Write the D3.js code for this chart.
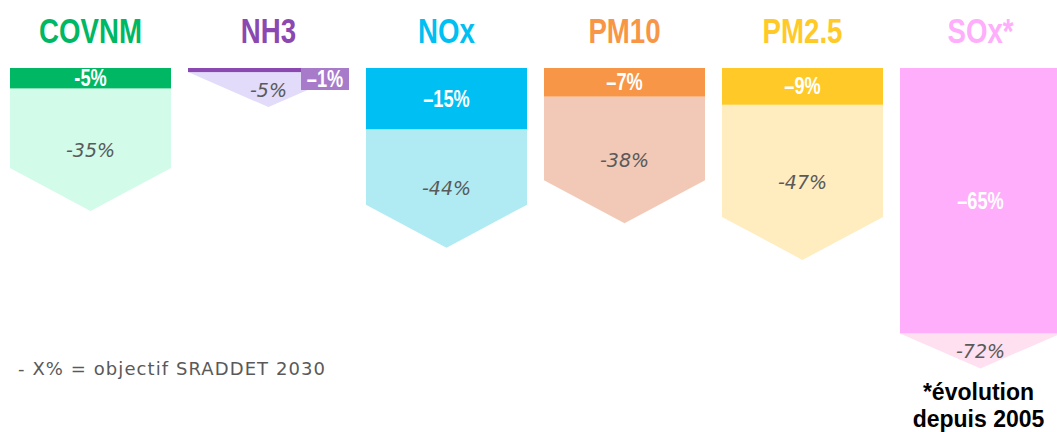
<!DOCTYPE html>
<html>
<head>
<meta charset="utf-8">
<script src="https://cdn.jsdelivr.net/npm/d3@7"></script>
<style>
  body { margin: 0; background: #fff; }
  svg { display: block; }
</style>
</head>
<body>
<svg></svg>
<script>
// polluants et evolutions (en %)
let polluants = ['COVNM', 'NH3', 'NOx', 'PM10', 'PM2.5', 'SOx*'];
let evolution = [-5, -1, -15, -7, -9, -65];
let objectif2030 = [-35, -5, -44, -38, -47, -72];
let evolutionLabels = ['-5%', '\u20131%', '\u201315%', '\u20137%', '\u20139%', '\u201365%'];
let objectifLabels = ['-35%', '-5%', '-44%', '-38%', '-47%', '-72%'];

let colors = ['#00b864', '#8b48b0', '#00bff3', '#f79646', '#ffca28', '#ffaefc'];
let lightColors = ['#d2fbea', '#e2dbf9', '#b0eaf2', '#f2c9b6', '#ffecbf', '#ffe0f0'];

let width = 1057;
let height = 432;
let bold = '"Liberation Sans", Arial, sans-serif';
let squeeze = 0.79; // pas de police etroite dispo : on compresse

let svg = d3.select('svg').attr('width', width).attr('height', height);

let rows = polluants.map((p, i) => ({
    name: p, evo: evolution[i], obj: objectif2030[i],
    evoLabel: evolutionLabels[i], objLabel: objectifLabels[i],
    color: colors[i], light: lightColors[i]
}));

let xScale = d3.scaleBand()
    .domain(polluants)
    .range([10, 1061])
    .paddingInner(17 / 178);

let yScale = d3.scaleLinear()
    .domain([0, d3.min(objectif2030)])
    .range([68, 362]);

let arrowH = 43;
let minDepth = 35;

let arrowGeom = (d) => {
    let bottom = yScale(d.evo);
    let tip = Math.max(yScale(d.obj), bottom + minDepth);
    let shoulder = Math.max(tip - arrowH, bottom);
    return { bottom: bottom, tip: tip, shoulder: shoulder };
};

// fleches objectif 2030 (arriere-plan)
svg.selectAll('path.obj')
    .data(rows)
    .enter()
    .append('path')
    .attr('class', 'obj')
    .attr('fill', d => d.light)
    .attr('d', d => {
        let x0 = xScale(d.name), x1 = x0 + xScale.bandwidth(), cx = (x0 + x1) / 2;
        let g = arrowGeom(d);
        return 'M' + x0 + ',' + g.bottom + 'L' + x1 + ',' + g.bottom + 'L' + x1 + ',' + g.shoulder +
            'L' + cx + ',' + g.tip + 'L' + x0 + ',' + g.shoulder + 'Z';
    });

// barres evolution
svg.selectAll('rect.evo')
    .data(rows)
    .enter()
    .append('rect')
    .attr('class', 'evo')
    .attr('x', d => xScale(d.name))
    .attr('y', yScale(0))
    .attr('width', xScale.bandwidth())
    .attr('height', d => yScale(d.evo) - yScale(0))
    .attr('fill', d => d.color);

// titres
svg.selectAll('text.title')
    .data(rows)
    .enter()
    .append('text')
    .attr('class', 'title')
    .attr('transform', d => 'translate(' + (xScale(d.name) + xScale.bandwidth() / 2) + ',43) scale(' + squeeze + ',1)')
    .attr('text-anchor', 'middle')
    .style('font-family', bold)
    .style('font-weight', 'bold')
    .style('font-size', '35px')
    .attr('fill', d => d.color)
    .text(d => d.name);

// etiquettes evolution (petite boite si la barre est trop fine)
rows.forEach(d => {
    let x0 = xScale(d.name), bw = xScale.bandwidth();
    let barH = yScale(d.evo) - yScale(0);
    let tx, ty;
    if (barH < 10) {
        svg.append('rect')
            .attr('x', x0 + bw - 48).attr('y', yScale(0))
            .attr('width', 48).attr('height', 22)
            .attr('fill', '#a87bca');
        tx = x0 + bw - 24; ty = yScale(0) + 19;
    } else {
        tx = x0 + bw / 2; ty = yScale(0) + barH / 2 + 8;
    }
    svg.append('text')
        .attr('transform', 'translate(' + tx + ',' + ty + ') scale(' + squeeze + ',1)')
        .attr('text-anchor', 'middle')
        .style('font-family', bold).style('font-weight', 'bold').style('font-size', '23px')
        .attr('fill', '#fff')
        .text(d.evoLabel);
});

// etiquettes objectif
svg.selectAll('text.objlab')
    .data(rows)
    .enter()
    .append('text')
    .attr('class', 'objlab')
    .attr('x', d => xScale(d.name) + xScale.bandwidth() / 2)
    .attr('y', d => {
        let g = arrowGeom(d);
        return (g.bottom + g.tip) / 2 + 7;
    })
    .attr('text-anchor', 'middle')
    .style('font-family', '"DejaVu Sans", sans-serif')
    .style('font-style', 'italic')
    .style('font-size', '19px')
    .attr('fill', '#5a5a5a')
    .text(d => d.objLabel);

// notes
svg.append('text')
    .attr('x', 18).attr('y', 375)
    .attr('textLength', 307)
    .style('font-family', '"DejaVu Sans", sans-serif')
    .style('font-size', '18px')
    .attr('fill', '#595959')
    .text('- X% = objectif SRADDET 2030');

let noteX = xScale('SOx*') + xScale.bandwidth() / 2 - 2;
svg.append('text')
    .attr('x', noteX).attr('y', 400)
    .attr('text-anchor', 'middle')
    .style('font-family', bold)
    .style('font-weight', 'bold').style('font-size', '23px')
    .attr('fill', '#000')
    .text('*\u00e9volution');
svg.append('text')
    .attr('x', noteX).attr('y', 427)
    .attr('text-anchor', 'middle')
    .style('font-family', bold)
    .style('font-weight', 'bold').style('font-size', '23px')
    .attr('fill', '#000')
    .text('depuis 2005');
</script>
</body>
</html>
